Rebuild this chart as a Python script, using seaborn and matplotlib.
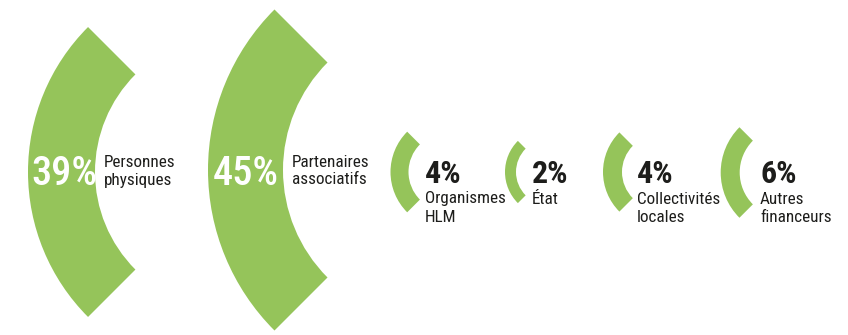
import matplotlib
matplotlib.use("Agg")
import matplotlib.pyplot as plt
from matplotlib.patches import Wedge
import seaborn as sns

# ---- data ----
values = [39, 45, 4, 2, 4, 6]
labels = ["Personnes\nphysiques", "Partenaires\nassociatifs", "Organismes\nHLM",
          "État", "Collectivités\nlocales", "Autres\nfinanceurs"]

# ---- layout (pixel units) ----
centers_x = [233, 435, 447.5, 549, 659, 784.7]
centers_y = [172, 170, 172, 172, 172, 172.5]
outer_r = [205, 227, 57, 44, 56, 64]
inner_r = [138, 152, 39, 33, 37, 45]
big = [True, True, False, False, False, False]
pct_x = [31, 213, 425, 532, 637, 760]
lab_x = [104, 292, 425, 532, 637, 760]

GREEN = "#95c45a"
INK = "#1d1d1b"

sns.set_theme(style="white")
plt.rcParams["font.family"] = ["Roboto Condensed", "Noto Sans Condensed",
                               "DejaVu Sans Condensed", "DejaVu Sans"]
plt.rcParams["font.stretch"] = "condensed"

fig = plt.figure(figsize=(8.48, 3.35), dpi=100)
ax = fig.add_axes([0, 0, 1, 1])
ax.set_xlim(0, 848)
ax.set_ylim(335, 0)
ax.axis("off")

for i, v in enumerate(values):
    w = Wedge((centers_x[i], centers_y[i]), outer_r[i], 135, 225,
              width=outer_r[i] - inner_r[i], facecolor=GREEN, edgecolor="none")
    ax.add_patch(w)
    lines = labels[i].split("\n")
    if big[i]:
        ax.text(pct_x[i], 185, f"{v}%", color="white", fontsize=29,
                fontweight="medium", ha="left", va="baseline")
        for j, ln in enumerate(lines):
            ax.text(lab_x[i], 167 + 17.5 * j, ln, color=INK, fontsize=12.3,
                    ha="left", va="baseline")
    else:
        ax.text(pct_x[i], 182.7, f"{v}%", color=INK, fontsize=23,
                fontweight="bold", ha="left", va="baseline")
        for j, ln in enumerate(lines):
            ax.text(lab_x[i], 203.5 + 18.2 * j, ln, color=INK, fontsize=12.3,
                    ha="left", va="baseline")

fig.savefig("out.png", dpi=100, facecolor="white")
